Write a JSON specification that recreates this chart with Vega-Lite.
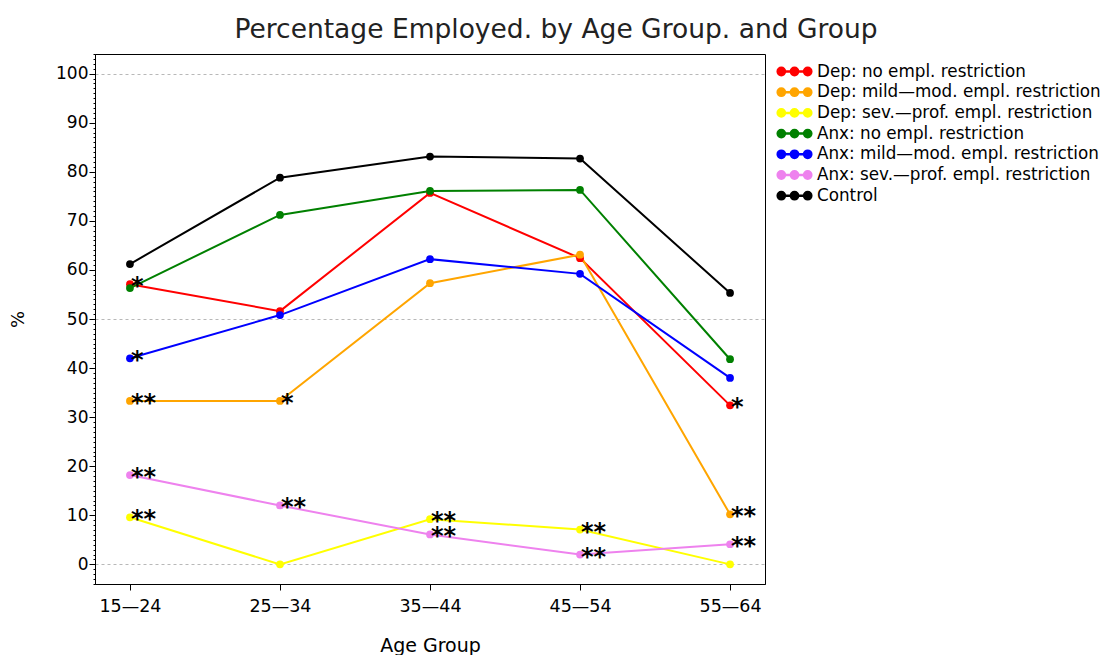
{
  "$schema": "https://vega.github.io/schema/vega-lite/v6.json",
  "width": 670,
  "height": 530,
  "autosize": {"type": "none"},
  "padding": {"left": 95, "top": 54, "right": 341, "bottom": 71},
  "background": "white",
  "config": {
    "font": "DejaVu Sans",
    "view": {"stroke": "black", "strokeWidth": 1},
    "axis": {"domainColor": "black", "tickColor": "black", "labelColor": "black", "titleColor": "black", "labelFont": "DejaVu Sans", "titleFont": "DejaVu Sans", "titleFontWeight": "normal"}
  },
  "title": {"text": "Percentage Employed. by Age Group. and Group", "font": "DejaVu Sans", "fontSize": 26.5, "fontWeight": "normal", "color": "#222222", "anchor": "middle", "frame": "group", "dx": 126, "offset": 2},
  "data": {"values": [
    {"group": "Dep: no empl. restriction", "age": "15—24", "pct": 57.1, "sig": "*"},
    {"group": "Dep: no empl. restriction", "age": "25—34", "pct": 51.6, "sig": ""},
    {"group": "Dep: no empl. restriction", "age": "35—44", "pct": 75.7, "sig": ""},
    {"group": "Dep: no empl. restriction", "age": "45—54", "pct": 62.4, "sig": ""},
    {"group": "Dep: no empl. restriction", "age": "55—64", "pct": 32.4, "sig": "*"},
    {"group": "Dep: mild—mod. empl. restriction", "age": "15—24", "pct": 33.3, "sig": "**"},
    {"group": "Dep: mild—mod. empl. restriction", "age": "25—34", "pct": 33.3, "sig": "*"},
    {"group": "Dep: mild—mod. empl. restriction", "age": "35—44", "pct": 57.3, "sig": ""},
    {"group": "Dep: mild—mod. empl. restriction", "age": "45—54", "pct": 63.1, "sig": ""},
    {"group": "Dep: mild—mod. empl. restriction", "age": "55—64", "pct": 10.2, "sig": "**"},
    {"group": "Dep: sev.—prof. empl. restriction", "age": "15—24", "pct": 9.6, "sig": "**"},
    {"group": "Dep: sev.—prof. empl. restriction", "age": "25—34", "pct": 0, "sig": ""},
    {"group": "Dep: sev.—prof. empl. restriction", "age": "35—44", "pct": 9.2, "sig": "**"},
    {"group": "Dep: sev.—prof. empl. restriction", "age": "45—54", "pct": 7.1, "sig": "**"},
    {"group": "Dep: sev.—prof. empl. restriction", "age": "55—64", "pct": 0, "sig": ""},
    {"group": "Anx: no empl. restriction", "age": "15—24", "pct": 56.3, "sig": ""},
    {"group": "Anx: no empl. restriction", "age": "25—34", "pct": 71.2, "sig": ""},
    {"group": "Anx: no empl. restriction", "age": "35—44", "pct": 76.1, "sig": ""},
    {"group": "Anx: no empl. restriction", "age": "45—54", "pct": 76.3, "sig": ""},
    {"group": "Anx: no empl. restriction", "age": "55—64", "pct": 41.8, "sig": ""},
    {"group": "Anx: mild—mod. empl. restriction", "age": "15—24", "pct": 42.0, "sig": "*"},
    {"group": "Anx: mild—mod. empl. restriction", "age": "25—34", "pct": 50.8, "sig": ""},
    {"group": "Anx: mild—mod. empl. restriction", "age": "35—44", "pct": 62.2, "sig": ""},
    {"group": "Anx: mild—mod. empl. restriction", "age": "45—54", "pct": 59.2, "sig": ""},
    {"group": "Anx: mild—mod. empl. restriction", "age": "55—64", "pct": 38.0, "sig": ""},
    {"group": "Anx: sev.—prof. empl. restriction", "age": "15—24", "pct": 18.2, "sig": "**"},
    {"group": "Anx: sev.—prof. empl. restriction", "age": "25—34", "pct": 12.0, "sig": "**"},
    {"group": "Anx: sev.—prof. empl. restriction", "age": "35—44", "pct": 6.1, "sig": "**"},
    {"group": "Anx: sev.—prof. empl. restriction", "age": "45—54", "pct": 2.0, "sig": "**"},
    {"group": "Anx: sev.—prof. empl. restriction", "age": "55—64", "pct": 4.1, "sig": "**"},
    {"group": "Control", "age": "15—24", "pct": 61.2, "sig": ""},
    {"group": "Control", "age": "25—34", "pct": 78.8, "sig": ""},
    {"group": "Control", "age": "35—44", "pct": 83.1, "sig": ""},
    {"group": "Control", "age": "45—54", "pct": 82.7, "sig": ""},
    {"group": "Control", "age": "55—64", "pct": 55.3, "sig": ""}
  ]},
  "encoding": {
    "x": {"field": "age", "type": "ordinal", "scale": {"type": "point", "padding": 0.233},
      "axis": {"title": "Age Group", "labelAngle": 0, "labelFontSize": 17.5, "titleFontSize": 19, "tickSize": 6, "labelPadding": 7, "titlePadding": 22, "grid": false}},
    "y": {"field": "pct", "type": "quantitative", "scale": {"domain": [-4, 104], "nice": false, "zero": false},
      "axis": {"title": "%", "titleFontSize": 18, "labelFontSize": 17, "titlePadding": 28, "labelPadding": 1, "labelOverlap": false,
        "values": [-4,-3,-2,-1,0,1,2,3,4,5,6,7,8,9,10,11,12,13,14,15,16,17,18,19,20,21,22,23,24,25,26,27,28,29,30,31,32,33,34,35,36,37,38,39,40,41,42,43,44,45,46,47,48,49,50,51,52,53,54,55,56,57,58,59,60,61,62,63,64,65,66,67,68,69,70,71,72,73,74,75,76,77,78,79,80,81,82,83,84,85,86,87,88,89,90,91,92,93,94,95,96,97,98,99,100,101,102,103,104],
        "labelExpr": "datum.value % 10 === 0 && datum.value >= 0 ? datum.label : ''",
        "tickSize": {"condition": {"test": "datum.value % 10 === 0", "value": 6}, "value": 2},
        "grid": true,
        "gridColor": "#b8b8b8",
        "gridDash": [3, 3],
        "gridOpacity": {"condition": {"test": "datum.value % 50 === 0", "value": 1}, "value": 0}}},
    "color": {"field": "group", "type": "nominal",
      "scale": {"domain": ["Dep: no empl. restriction", "Dep: mild—mod. empl. restriction", "Dep: sev.—prof. empl. restriction", "Anx: no empl. restriction", "Anx: mild—mod. empl. restriction", "Anx: sev.—prof. empl. restriction", "Control"],
        "range": ["#ff0000", "#ffa500", "#ffff00", "#008000", "#0000ff", "#ee82ee", "#000000"]},
      "legend": {"title": null, "orient": "none", "legendX": 690, "legendY": 8, "labelFontSize": 16.8, "labelLimit": 0, "labelColor": "black", "labelOffset": 13, "rowPadding": 1.7,
        "symbolType": "M-2,0H2M-1.16,0A0.44,0.44 0 1,0 -2.04,0A0.44,0.44 0 1,0 -1.16,0ZM0.44,0A0.44,0.44 0 1,0 -0.44,0A0.44,0.44 0 1,0 0.44,0ZM2.04,0A0.44,0.44 0 1,0 1.16,0A0.44,0.44 0 1,0 2.04,0Z",
        "symbolSize": 272, "symbolStrokeWidth": 2.5,
        "encode": {"symbols": {"update": {"fill": {"scale": "color", "field": "value"}, "stroke": {"scale": "color", "field": "value"}, "opacity": {"value": 1}}}}}}
  },
  "layer": [
    {"mark": {"type": "line", "strokeWidth": 2}},
    {"mark": {"type": "point", "filled": true, "size": 60, "opacity": 1}},
    {"transform": [{"filter": "datum.sig !== ''"}],
     "mark": {"type": "text", "align": "left", "baseline": "alphabetic", "dx": 1, "dy": 10, "fontSize": 24, "fontWeight": "bold", "color": "black", "font": "DejaVu Sans"},
     "encoding": {"text": {"field": "sig"}, "color": {"value": "black"}}}
  ]
}
